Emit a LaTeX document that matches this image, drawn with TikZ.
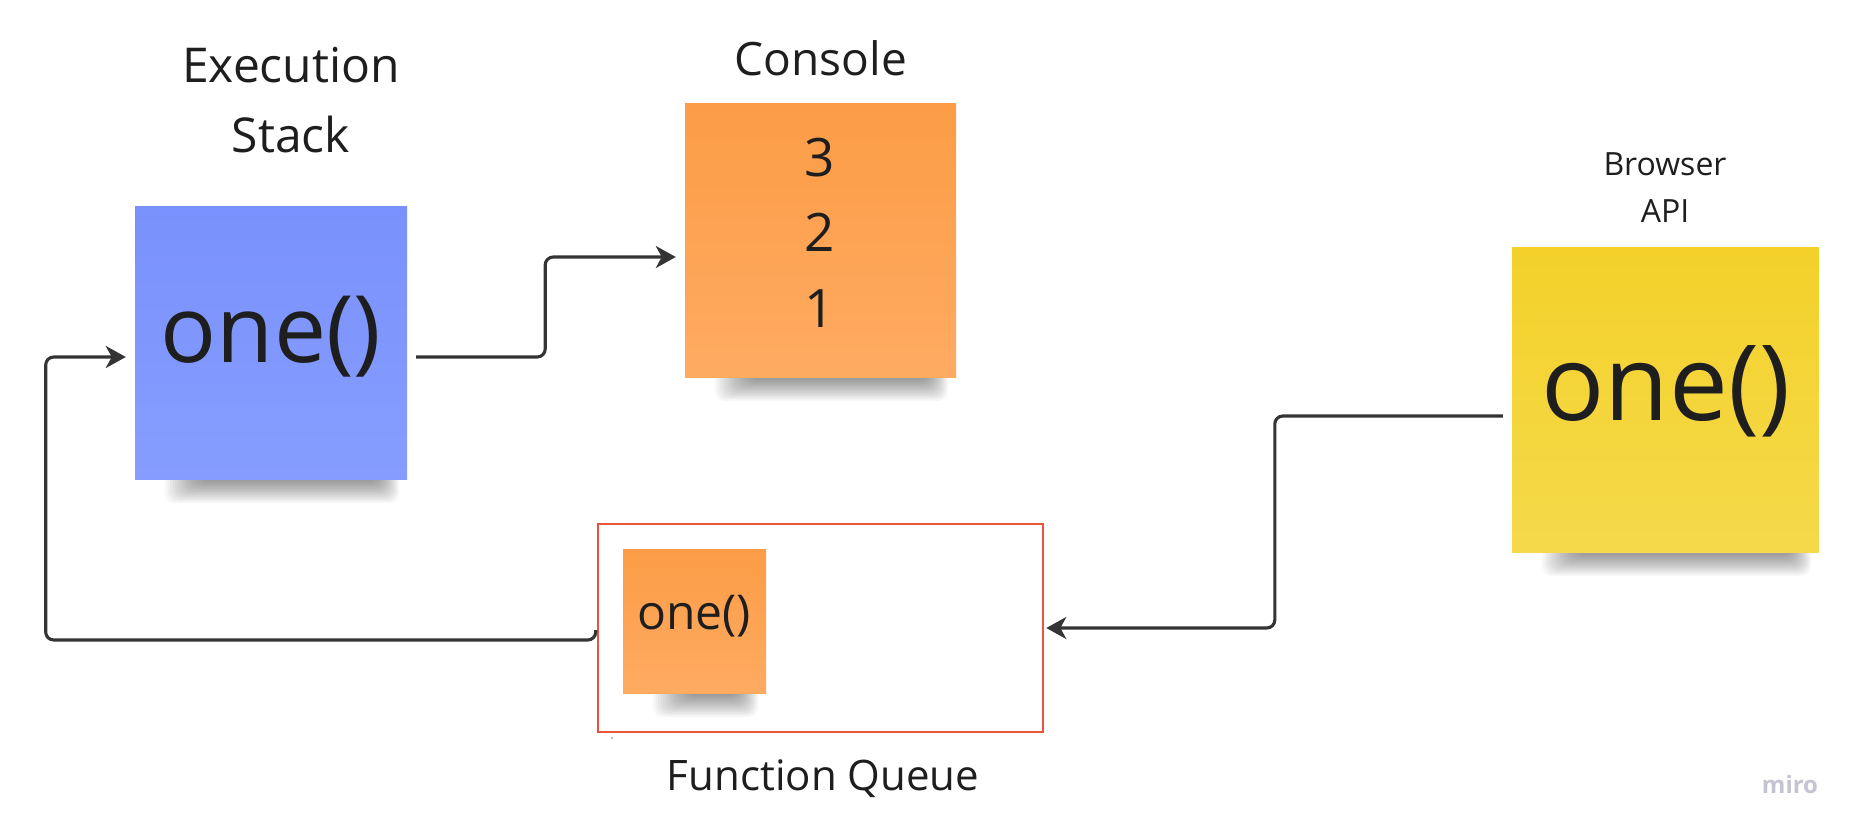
\documentclass[tikz,border=0pt]{standalone}
\usepackage{fontspec}
\setmainfont{Open Sans}
\usetikzlibrary{arrows.meta,calc}
\definecolor{inkc}{RGB}{30,30,30}
\definecolor{linec}{RGB}{52,52,52}
\definecolor{blueT}{RGB}{121,145,252}
\definecolor{blueB}{RGB}{134,157,255}
\definecolor{orT}{RGB}{252,156,70}
\definecolor{orB}{RGB}{254,171,98}
\definecolor{yeT}{RGB}{243,209,42}
\definecolor{yeB}{RGB}{245,217,74}
\definecolor{redc}{RGB}{232,84,60}
\definecolor{miroc}{RGB}{196,196,210}
\newcommand{\stickyshadow}[3]{%
  \foreach \i in {0,...,13}{%
    \fill[black,opacity=0.03,rounded corners=10pt]
      ({#1+30+2.5*\i},{#3-20}) rectangle ({#2-8-1.5*\i},{#3+24-1.6*\i});
  }%
}
\tikzset{
  lbl/.style={text=inkc,inner sep=0pt,anchor=base},
  sticky/.style={draw=none,inner sep=0pt,minimum width=#1},
  conn/.style={draw=linec,line width=3.1pt,rounded corners=8pt,
    -{Stealth[length=20pt,width=22pt,inset=6pt]}},
}
\begin{document}
\begin{tikzpicture}[x=1pt,y=-1pt]
\useasboundingbox[fill=white] (0,0) rectangle (1863,838);

% shadows
\stickyshadow{135}{407}{479}
\stickyshadow{685}{956}{377}
\stickyshadow{1512}{1819}{552}
\stickyshadow{623}{766}{693}

% sticky notes
\node[sticky=272pt,minimum height=273pt,top color=blueT,bottom color=blueB] (stack) at (271,342.5) {};
\node[sticky=271pt,minimum height=274pt,top color=orT,bottom color=orB] (console) at (820.5,240) {};
\node[sticky=307pt,minimum height=305pt,top color=yeT,bottom color=yeB] (browser) at (1665.5,399.5) {};
\node[draw=redc,line width=2.6pt,inner sep=0pt,minimum width=445pt,minimum height=208pt] (queue) at (820.5,628) {};
\node[sticky=143pt,minimum height=144pt,top color=orT,bottom color=orB] (qitem) at (694.5,621) {};

% texts
\node[lbl,font=\fontsize{48}{58}\selectfont] (execl1) at (291,82) {Execution};
\node[lbl,font=\fontsize{48}{58}\selectfont] (execl2) at (291,152) {Stack};
\node[lbl,font=\fontsize{46}{56}\selectfont] (consl) at (821,75) {Console};
\node[lbl,font=\fontsize{32}{40}\selectfont] (brl1) at (1665,175) {Browser};
\node[lbl,font=\fontsize{32}{40}\selectfont] (brl2) at (1665,222) {API};
\node[lbl,font=\fontsize{42}{50}\selectfont] (queuel) at (823,790) {Function Queue};

\node[lbl,font=\fontsize{93}{110}\selectfont] (stacktxt) at (271,362) {one()};
\node[lbl,font=\fontsize{105}{120}\selectfont] (brtxt) at (1666,420) {one()};
\node[lbl,font=\fontsize{48}{58}\selectfont] (qtxt) at (694,629) {one()};
\node[lbl,font=\fontsize{53}{64}\selectfont] (c3) at (820,176) {3};
\node[lbl,font=\fontsize{53}{64}\selectfont] (c2) at (820,251) {2};
\node[lbl,font=\fontsize{53}{64}\selectfont] (c1) at (820,327) {1};

\node[lbl,text=miroc,font=\fontsize{24}{28}\selectfont\bfseries] (miro) at (1790,793) {miro};
\fill[gray!70] (612,738) circle (1.2);

% connectors
\draw[conn] ([xshift=9pt,yshift=-14.5pt]stack.east) -- ++(129,0) |- ([xshift=-9pt,yshift=-17pt]console.west);
\draw[conn] ([xshift=-9pt,yshift=-16.5pt]browser.west) -- ++(-228,0) |- ([xshift=2pt]queue.east);
\draw[conn] ([xshift=-1pt,yshift=-2pt]queue.west) -- ++(0,10) -- ++(-550,0) |- ([xshift=-9pt,yshift=-14.5pt]stack.west);
\end{tikzpicture}
\end{document}
